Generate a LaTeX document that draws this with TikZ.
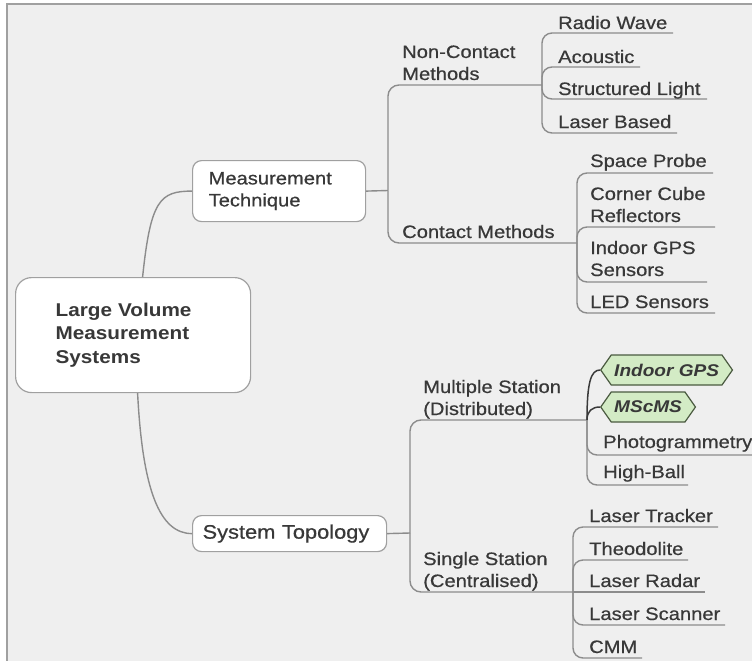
\documentclass[tikz,border=0pt]{standalone}
\usepackage{fontspec}
\setmainfont[FakeStretch=1.12, UprightFeatures={FakeBold=0.6}]{Liberation Sans}
\usetikzlibrary{shapes.symbols}
\definecolor{bgc}{HTML}{EFEFEF}
\definecolor{framec}{HTML}{A0A0A0}
\definecolor{linec}{HTML}{8C8C8C}
\definecolor{boxc}{HTML}{A0A0A0}
\definecolor{txt}{HTML}{383838}
\definecolor{hexfill}{HTML}{D3EBC5}
\definecolor{hexline}{HTML}{4A5A40}
\definecolor{darkc}{HTML}{3A3A3A}
% two stacked lines, baseline on the first one
\newcommand\twol[2]{\vtop{\hbox{#1}\hbox{#2}}}
\tikzset{
  branch/.style={draw=linec, line width=1.4pt, rounded corners=11pt},
  twig/.style={draw=linec, line width=1.4pt, rounded corners=10pt},
  hot/.style={draw=darkc, line width=1.5pt},
  topicbox/.style={draw=boxc, line width=1.2pt, fill=white, rounded corners=9pt,
    align=left, text=txt, inner ysep=0pt},
  leaf/.style={anchor=base west, inner sep=0pt, text=txt,
    font=\fontsize{18}{22}\selectfont},
  tag/.style={signal, signal to=west and east, signal pointer angle=110,
    draw=hexline, line width=1.2pt, fill=hexfill, minimum height=30pt,
    inner xsep=3pt, inner ysep=0pt, anchor=west, text=txt,
    font=\fontsize{17}{20}\selectfont\bfseries\itshape}
}
\begin{document}
\begin{tikzpicture}[x=1pt,y=-1pt]
\useasboundingbox (0,0) rectangle (752,661);
% canvas and frame
\fill[white] (0,0) rectangle (752,661);
\fill[bgc] (7,4) rectangle (752,661);
\draw[framec, line width=1.2pt] (7,661) -- (7,4) -- (752,4);

% main topics
\node[topicbox, rounded corners=16pt, anchor=north west, text width=155pt,
  inner xsep=40pt, minimum height=115pt,
  font=\fontsize{18.5}{23.5}\selectfont\bfseries]
  (root) at (15,277) {Large Volume\\Measurement\\Systems};
\node[topicbox, anchor=north west, text width=141pt, inner xsep=16pt,
  minimum height=61pt, font=\fontsize{18}{22}\selectfont]
  (mt) at (192,160) {Measurement\\Technique};
\node[topicbox, anchor=north west, text width=174pt, inner xsep=10pt,
  minimum height=36pt, font=\fontsize{19.5}{23}\selectfont]
  (st) at (192,515) {System Topology};

\draw[branch] ([xshift=9.5pt]root.north) .. controls +(8,-77) and +(-32,0) .. (mt.west);
\draw[branch] ([xshift=4.5pt]root.south) .. controls +(5,98) and +(-32,0) .. (st.west);

% branch points
\coordinate (mtb) at (388,190.5);
\coordinate (ncb) at (542,85);
\coordinate (cb)  at (577,243);
\coordinate (stb) at (410,533);
\coordinate (mb)  at (587,420);
\coordinate (sb)  at (573,592);

\draw[branch] (mt.east) -- (mtb);
\draw[branch] (mtb) |- (ncb);
\draw[branch] (mtb) |- (cb);
\draw[branch] (st.east) -- (stb);
\draw[branch] (stb) |- (mb);
\draw[branch] (stb) |- (sb);

% second level labels
\node[leaf] (nc) at (402,58) {\twol{Non-Contact}{Methods}};
\node[leaf] (cm) at (402,238) {Contact Methods};
\node[leaf] (ms) at (423,393) {\twol{Multiple Station}{(Distributed)}};
\node[leaf] (ss) at (423,565) {\twol{Single Station}{(Centralised)}};

% non-contact methods
\coordinate (rw-e) at (673,33);
\coordinate (ac-e) at (640,67);
\coordinate (sl-e) at (707,99);
\coordinate (lb-e) at (677,133);
\draw[twig] (ncb) |- (rw-e);
\draw[twig] (ncb) |- (ac-e);
\draw[twig] (ncb) |- (sl-e);
\draw[twig] (ncb) |- (lb-e);
\node[leaf] (rw) at (558,29) {Radio Wave};
\node[leaf] (ac) at (558,63) {Acoustic};
\node[leaf] (sl) at (558,95) {Structured Light};
\node[leaf] (lb) at (558,128) {Laser Based};

% contact methods
\coordinate (sp-e) at (713,173);
\coordinate (cc-e) at (715,227);
\coordinate (ig-e) at (707,282);
\coordinate (led-e) at (715,313);
\draw[twig] (cb) |- (sp-e);
\draw[twig] (cb) |- (cc-e);
\draw[twig] (cb) |- (ig-e);
\draw[twig] (cb) |- (led-e);
\node[leaf] (sp) at (590,167) {Space Probe};
\node[leaf] (cc) at (590,200) {\twol{Corner Cube}{Reflectors}};
\node[leaf] (ig) at (590,254) {\twol{Indoor GPS}{Sensors}};
\node[leaf] (led) at (590,308) {LED Sensors};

% multiple station systems
\node[tag] (igps) at (600,370) {Indoor GPS};
\node[tag] (msc) at (600,407) {MScMS};
\draw[hot] (mb) .. controls +(0,-38) and +(-9,0) .. (igps.west);
\draw[hot] (mb) .. controls +(0,-9) and +(-8,0) .. (msc.west);
\coordinate (ph-e) at (752,455);
\coordinate (hb-e) at (688,485);
\draw[twig] (mb) |- (ph-e);
\draw[twig] (mb) |- (hb-e);
\node[leaf] (ph) at (603,448) {Photogrammetry};
\node[leaf] (hb) at (603,478) {High-Ball};

% single station systems
\coordinate (lt-e) at (718,527);
\coordinate (th-e) at (688,560);
\coordinate (lr-e) at (705,592);
\coordinate (ls-e) at (725,625);
\coordinate (cmm-e) at (642,658);
\draw[twig] (sb) |- (lt-e);
\draw[twig] (sb) |- (th-e);
\draw[twig] (sb) -- (lr-e);
\draw[twig] (sb) |- (ls-e);
\draw[twig] (sb) |- (cmm-e);
\node[leaf] (lt) at (589,522) {Laser Tracker};
\node[leaf] (th) at (589,555) {Theodolite};
\node[leaf] (lr) at (589,587) {Laser Radar};
\node[leaf] (ls) at (589,620) {Laser Scanner};
\node[leaf] (cmm) at (589,653) {CMM};
\end{tikzpicture}
\end{document}
